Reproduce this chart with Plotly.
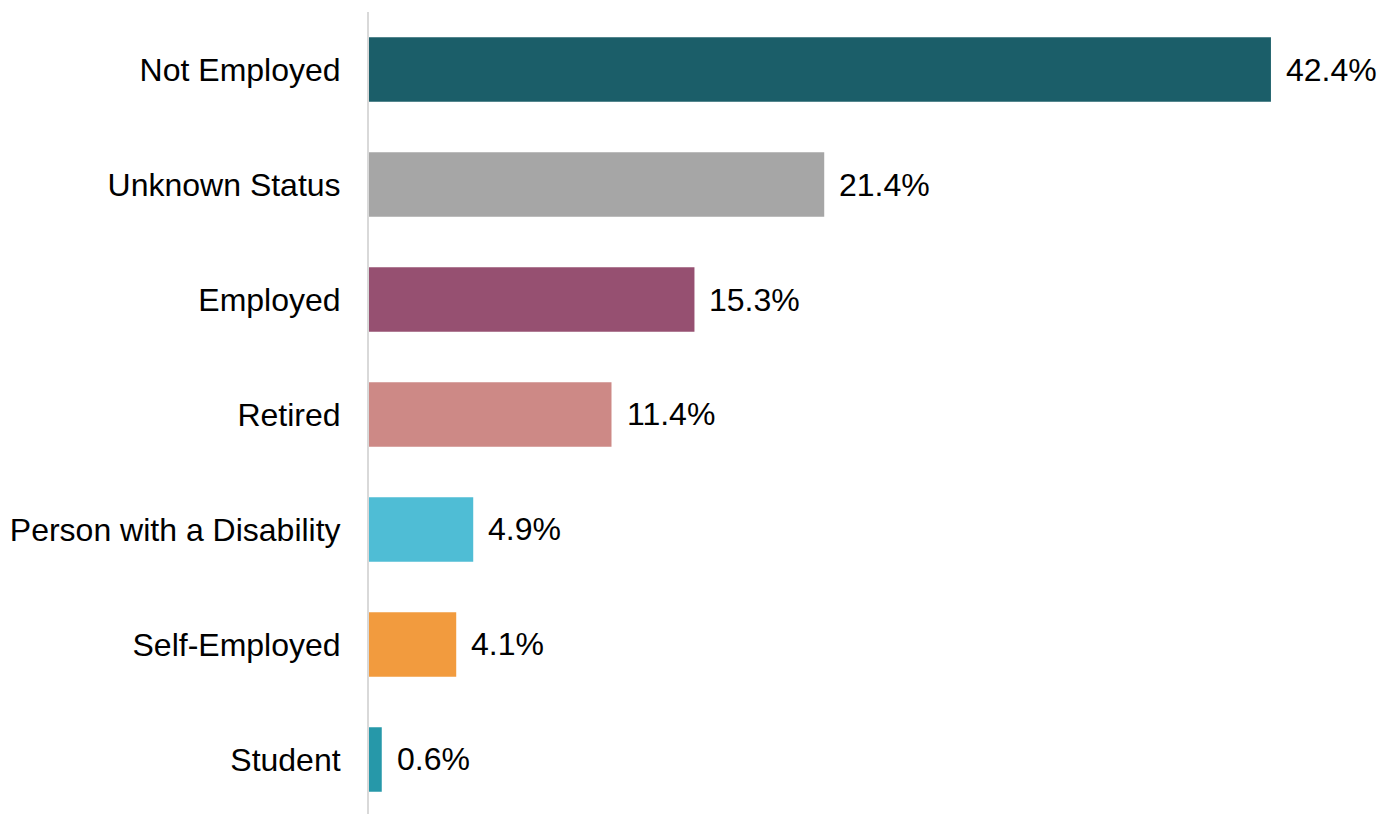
import plotly.graph_objects as go

# Share of clients by employment status (%)
categories = ["Not Employed", "Unknown Status", "Employed", "Retired",
              "Person with a Disability", "Self-Employed", "Student"]
values = [42.4, 21.4, 15.3, 11.4, 4.9, 4.1, 0.6]
colors = ["#1b5e69", "#a6a6a6", "#965071", "#cd8986",
          "#4fbdd5", "#f29b3e", "#2698a9"]
value_labels = [f"{v:.1f}%" for v in values]

FONT = "Liberation Sans, Arial, sans-serif"
FONT_SIZE = 32

fig = go.Figure(
    go.Bar(
        x=values,
        y=categories,
        orientation="h",
        marker=dict(color=colors, line=dict(width=0)),
        width=0.56,
        hoverinfo="skip",
    )
)

# value labels placed just past the end of each bar
for cat, val, lab in zip(categories, values, value_labels):
    fig.add_annotation(
        x=val, y=cat, text=lab, showarrow=False,
        xanchor="left", yanchor="middle", xshift=13,
        font=dict(family=FONT, size=FONT_SIZE, color="#000000"),
    )

fig.update_layout(
    width=1379,
    height=814,
    margin=dict(l=369, r=0, t=12, b=0),
    paper_bgcolor="white",
    plot_bgcolor="white",
    showlegend=False,
    font=dict(family=FONT, size=FONT_SIZE, color="#000000"),
    xaxis=dict(
        range=[0, 47.48],
        visible=False,
        showgrid=False,
        zeroline=False,
    ),
    yaxis=dict(
        categoryorder="array",
        categoryarray=categories,
        range=[6.474, -0.5],
        showgrid=False,
        zeroline=False,
        showline=True,
        linecolor="#d9d9d9",
        linewidth=2,
        ticks="",
        ticklabelstandoff=20,
        tickfont=dict(family=FONT, size=FONT_SIZE, color="#000000"),
    ),
)

fig.write_html("out.html")
